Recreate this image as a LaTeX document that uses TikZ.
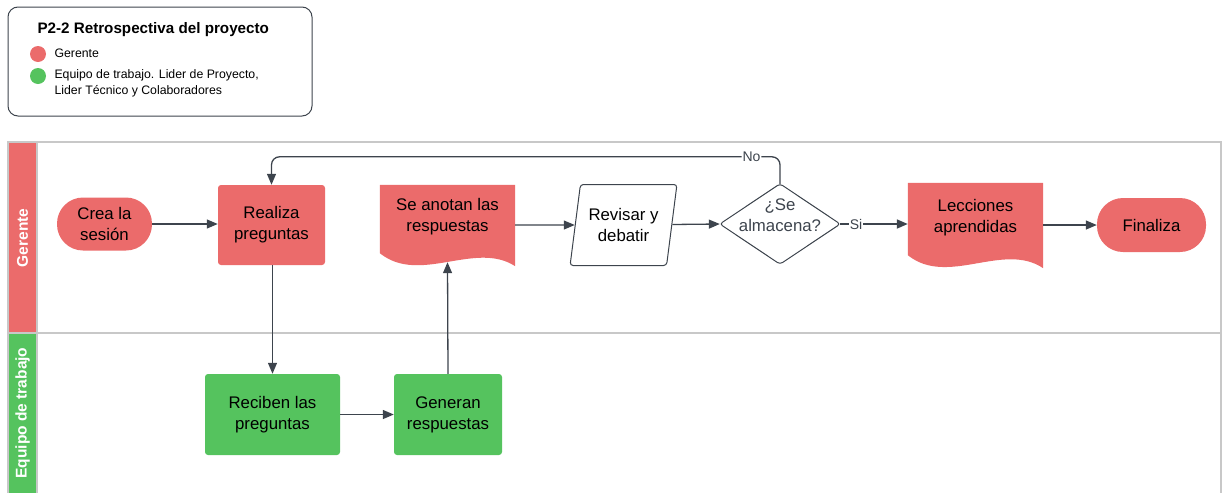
\documentclass[tikz,border=0pt]{standalone}
\usepackage{fontspec}
\setmainfont{Liberation Sans}
\usetikzlibrary{arrows.meta,shapes.geometric,calc}
\definecolor{gerred}{HTML}{EB6B6B}
\definecolor{eqgreen}{HTML}{55C35E}
\definecolor{linegray}{HTML}{3D444D}
\definecolor{lanegray}{HTML}{C8C8C8}
\begin{document}
\begin{tikzpicture}[x = 1pt, y = -1pt,
    txt/.style = {font=\fontsize{16.8}{21}\selectfont, align=center, text=black},
    redbox/.style = {txt, fill=gerred, rounded corners=3pt, minimum width=107pt, minimum height=80pt},
    greenbox/.style = {txt, fill=eqgreen, rounded corners=3pt, minimum height=81pt},
    term/.style = {txt, fill=gerred, rounded corners=26pt, minimum height=53pt},
    docbox/.style = {minimum width=135pt, inner sep=0pt},
    arr/.style = {draw=linegray, line width=1.3pt, -{Triangle[length=11pt,width=9pt]}},
    lbl/.style = {fill=white, inner sep=1pt, font=\fontsize{14}{16}\selectfont, text=linegray},
    legtxt/.style = {font=\fontsize{12.3}{16}\selectfont, anchor=west, align=left}]
    \useasboundingbox (0,0) rectangle (1225,493);
    % leyenda
    \draw [color=linegray, line width=1pt, rounded corners=10pt] (8,7) rectangle (312,116);
    \node [font=\fontsize{15.2}{17}\selectfont\bfseries, anchor=west] (tit) at (34,30) {P2-2 Retrospectiva del proyecto};
    \fill [color=gerred] (38,54) circle (8pt);
    \fill [color=eqgreen] (38,76) circle (8pt);
    \node [legtxt] (legger) at (51,53) {Gerente};
    \node [legtxt, anchor=north west] (legeq) at (51,66.5) {Equipo de trabajo. Lider de Proyecto,\\Lider Técnico y Colaboradores};
    % carriles
    \fill [color=gerred] (8,142) rectangle (37,333);
    \fill [color=eqgreen] (8,333) rectangle (37,493);
    \draw [color=lanegray, line width=1.5pt] (8,493) |- (1221,142) -- (1221,493);
    \draw [color=lanegray, line width=1.5pt] (8,333) -- (1221,333);
    \draw [color=lanegray, line width=1.5pt] (37,142) -- (37,493);
    \node [rotate=90, text=white, font=\fontsize{15.5}{17}\selectfont\bfseries] (langer) at (22.5,238) {Gerente};
    \node [rotate=90, text=white, font=\fontsize{15.5}{17}\selectfont\bfseries] (laneq) at (22.5,413) {Equipo de trabajo};
    % nodos
    \node [term, minimum width=95pt] (crea) at (104.5,224) {Crea la\\sesión};
    \node [redbox] (rea) at (271.5,225) {Realiza\\preguntas};
    \node [docbox, minimum height=82pt] (anota) at (447.5,226) {};
    \fill [color=gerred] (anota.north west) -- (anota.north east) -- ($(anota.south east)+(0,-1)$)
        .. controls +(-40,-26) and +(40,32) .. ($(anota.south west)+(0,-14)$) -- cycle;
    \node [txt] (anotatxt) at ([yshift=9.5pt]anota.center) {Se anotan las\\respuestas};
    \node [txt, draw=linegray, line width=1pt, shape=trapezium, trapezium left angle=77, trapezium right angle=103,
        trapezium stretches=true, minimum width=107pt, minimum height=81pt, rounded corners=3pt] (rev) at (623.5,225) {Revisar y\\debatir};
    \node [minimum width=120pt, minimum height=80pt] (alm) at (780,224) {};
    \draw [color=linegray, line width=1pt, rounded corners=3pt] (alm.north) -- (alm.east) -- (alm.south) -- (alm.west) -- cycle;
    \node [txt, text=linegray] (almtxt) at ([yshift=8.5pt]alm.center) {¿Se\\almacena?};
    \node [docbox, minimum height=85pt] (lec) at (975.5,225.5) {};
    \fill [color=gerred] (lec.north west) -- (lec.north east) -- (lec.south east)
        .. controls +(-40,-27) and +(40,32) .. ($(lec.south west)+(0,-13)$) -- cycle;
    \node [txt] (lectxt) at ([yshift=8pt]lec.center) {Lecciones\\aprendidas};
    \node [term, minimum width=109pt, minimum height=54pt] (fin) at (1151.5,225) {Finaliza};
    \node [greenbox, minimum width=135pt] (rec) at (272.5,414.5) {Reciben las\\preguntas};
    \node [greenbox, minimum width=108pt] (gen) at (448,414.5) {Generan\\respuestas};
    \coordinate (anotab) at ($(anota.south)+(0,-5)$);
    \coordinate (arriba) at ($(alm.north)+(0,-27)$);
    % conectores
    \draw [arr] (crea) -- (crea -| rea.west);
    \draw [arr] (rea.south -| rec) -- (rec.north);
    \draw [arr] (rec) -- (rec -| gen.west);
    \draw [arr] (gen.north) -- (anotab);
    \draw [arr] (anota.east |- rev) -- (rev);
    \draw [arr] (rev) -- (alm.west);
    \draw [arr, line width=1.7pt] (alm.east) -- (lec.west |- alm.east) node [lbl, pos=0.235] {Si};
    \draw [arr] (lec.east |- fin) -- (fin);
    \draw [arr, rounded corners=8pt] (alm.north) -- (arriba) -| (rea.north) node [lbl, pos=0.028] {No};
\end{tikzpicture}
\end{document}
